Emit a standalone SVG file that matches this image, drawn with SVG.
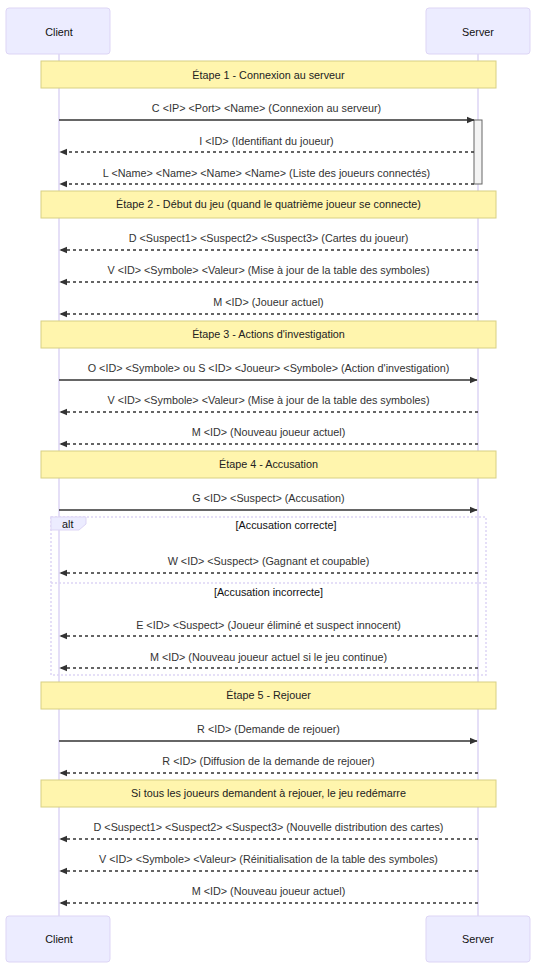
<svg xmlns="http://www.w3.org/2000/svg" width="542" height="966" viewBox="0 0 542 966">
<style>
text{font-family:"Liberation Sans",Arial,sans-serif;font-size:10.8px;fill:#333}
.actor{fill:#ececff;stroke:#ddd5f5;stroke-width:1}
.actorText{fill:#111;text-anchor:middle;dominant-baseline:central}
.life{stroke:#ddd5f5;stroke-width:1.5}
.note{fill:#fff5ad;stroke:#d8d083;stroke-width:1}
.noteText{fill:#222;text-anchor:middle;dominant-baseline:central}
.msg{text-anchor:middle}
.solid{stroke:#333;stroke-width:1.5;fill:none}
.dash{stroke:#333;stroke-width:1.5;fill:none;stroke-dasharray:3,3}
.act{fill:#f4f4f4;stroke:#666;stroke-width:1}
.frame{fill:none;stroke:#ddd5f5;stroke-width:1.5;stroke-dasharray:2,2}
.lbl{fill:#ececff;stroke:#ddd5f5;stroke-width:1}
</style>
<defs>
<marker id="ah" viewBox="0 0 12 10" refX="11" refY="5" markerWidth="8" markerHeight="8" markerUnits="userSpaceOnUse" orient="auto-start-reverse">
<path d="M0,0 L12,5 L0,10 z" fill="#333"/>
</marker>
</defs>
<rect width="542" height="966" fill="#fff"/>
<g id="lifelines">
<line class="life" x1="59" y1="54" x2="59" y2="916"/>
<line class="life" x1="478" y1="54" x2="478" y2="916"/>
</g>
<g id="actor-client-top"><rect class="actor" x="6" y="8" width="104" height="46" rx="3"/><text class="actorText" x="59" y="32">Client</text></g>
<g id="actor-server-top"><rect class="actor" x="426" y="8" width="104" height="46" rx="3"/><text class="actorText" x="478" y="32">Server</text></g>
<g id="actor-client-bottom"><rect class="actor" x="6" y="916" width="104" height="46" rx="3"/><text class="actorText" x="59" y="939">Client</text></g>
<g id="actor-server-bottom"><rect class="actor" x="426" y="916" width="104" height="46" rx="3"/><text class="actorText" x="478" y="939">Server</text></g>

<g id="activation"><rect class="act" x="474" y="120" width="8" height="64"/></g>

<g id="note1"><rect class="note" x="41" y="61" width="455" height="27"/><text class="noteText" x="268.5" y="75">Étape 1 - Connexion au serveur</text></g>
<g id="note2"><rect class="note" x="41" y="191" width="455" height="27"/><text class="noteText" x="268.5" y="204">Étape 2 - Début du jeu (quand le quatrième joueur se connecte)</text></g>
<g id="note3"><rect class="note" x="41" y="321" width="455" height="27"/><text class="noteText" x="268.5" y="334">Étape 3 - Actions d'investigation</text></g>
<g id="note4"><rect class="note" x="41" y="451" width="455" height="27"/><text class="noteText" x="268.5" y="464">Étape 4 - Accusation</text></g>
<g id="note5"><rect class="note" x="41" y="682" width="455" height="27"/><text class="noteText" x="268.5" y="695">Étape 5 - Rejouer</text></g>
<g id="note6"><rect class="note" x="41" y="780" width="455" height="27"/><text class="noteText" x="268.5" y="793">Si tous les joueurs demandent à rejouer, le jeu redémarre</text></g>

<g id="alt">
<rect class="frame" x="51" y="517" width="435" height="158"/>
<line class="frame" x1="51" y1="583" x2="486" y2="583"/>
<polygon class="lbl" points="51,517 86,517 86,524 79,530 51,530"/>
<text x="62" y="527.5" style="fill:#111">alt</text>
<text class="msg" x="286" y="529" style="fill:#111">[Accusation correcte]</text>
<text class="msg" x="268.5" y="596" style="fill:#111">[Accusation incorrecte]</text>
</g>

<g id="connectors">
<line class="solid" x1="59" y1="120" x2="474" y2="120" marker-end="url(#ah)"/>
<line class="dash" x1="474" y1="152" x2="60" y2="152" marker-end="url(#ah)"/>
<line class="dash" x1="474" y1="184" x2="60" y2="184" marker-end="url(#ah)"/>
<line class="dash" x1="478" y1="250" x2="60" y2="250" marker-end="url(#ah)"/>
<line class="dash" x1="478" y1="282" x2="60" y2="282" marker-end="url(#ah)"/>
<line class="dash" x1="478" y1="314" x2="60" y2="314" marker-end="url(#ah)"/>
<line class="solid" x1="59" y1="380" x2="477" y2="380" marker-end="url(#ah)"/>
<line class="dash" x1="478" y1="412" x2="60" y2="412" marker-end="url(#ah)"/>
<line class="dash" x1="478" y1="444" x2="60" y2="444" marker-end="url(#ah)"/>
<line class="solid" x1="59" y1="510" x2="477" y2="510" marker-end="url(#ah)"/>
<line class="dash" x1="478" y1="573" x2="60" y2="573" marker-end="url(#ah)"/>
<line class="dash" x1="478" y1="636" x2="60" y2="636" marker-end="url(#ah)"/>
<line class="dash" x1="478" y1="668" x2="60" y2="668" marker-end="url(#ah)"/>
<line class="solid" x1="59" y1="741" x2="477" y2="741" marker-end="url(#ah)"/>
<line class="dash" x1="478" y1="773" x2="60" y2="773" marker-end="url(#ah)"/>
<line class="dash" x1="478" y1="839" x2="60" y2="839" marker-end="url(#ah)"/>
<line class="dash" x1="478" y1="871" x2="60" y2="871" marker-end="url(#ah)"/>
<line class="dash" x1="478" y1="903" x2="60" y2="903" marker-end="url(#ah)"/>
</g>

<g id="labels">
<text class="msg" x="266.5" y="112">C &lt;IP&gt; &lt;Port&gt; &lt;Name&gt; (Connexion au serveur)</text>
<text class="msg" x="266.5" y="145">I &lt;ID&gt; (Identifiant du joueur)</text>
<text class="msg" x="266.5" y="177">L &lt;Name&gt; &lt;Name&gt; &lt;Name&gt; &lt;Name&gt; (Liste des joueurs connectés)</text>
<text class="msg" x="268.5" y="242">D &lt;Suspect1&gt; &lt;Suspect2&gt; &lt;Suspect3&gt; (Cartes du joueur)</text>
<text class="msg" x="268.5" y="274">V &lt;ID&gt; &lt;Symbole&gt; &lt;Valeur&gt; (Mise à jour de la table des symboles)</text>
<text class="msg" x="268.5" y="306">M &lt;ID&gt; (Joueur actuel)</text>
<text class="msg" x="268.5" y="372">O &lt;ID&gt; &lt;Symbole&gt; ou S &lt;ID&gt; &lt;Joueur&gt; &lt;Symbole&gt; (Action d'investigation)</text>
<text class="msg" x="268.5" y="404">V &lt;ID&gt; &lt;Symbole&gt; &lt;Valeur&gt; (Mise à jour de la table des symboles)</text>
<text class="msg" x="268.5" y="436">M &lt;ID&gt; (Nouveau joueur actuel)</text>
<text class="msg" x="268.5" y="502">G &lt;ID&gt; &lt;Suspect&gt; (Accusation)</text>
<text class="msg" x="268.5" y="565">W &lt;ID&gt; &lt;Suspect&gt; (Gagnant et coupable)</text>
<text class="msg" x="268.5" y="629">E &lt;ID&gt; &lt;Suspect&gt; (Joueur éliminé et suspect innocent)</text>
<text class="msg" x="268.5" y="661">M &lt;ID&gt; (Nouveau joueur actuel si le jeu continue)</text>
<text class="msg" x="268.5" y="733">R &lt;ID&gt; (Demande de rejouer)</text>
<text class="msg" x="268.5" y="765">R &lt;ID&gt; (Diffusion de la demande de rejouer)</text>
<text class="msg" x="268.5" y="831">D &lt;Suspect1&gt; &lt;Suspect2&gt; &lt;Suspect3&gt; (Nouvelle distribution des cartes)</text>
<text class="msg" x="268.5" y="863">V &lt;ID&gt; &lt;Symbole&gt; &lt;Valeur&gt; (Réinitialisation de la table des symboles)</text>
<text class="msg" x="268.5" y="895">M &lt;ID&gt; (Nouveau joueur actuel)</text>
</g>
</svg>
